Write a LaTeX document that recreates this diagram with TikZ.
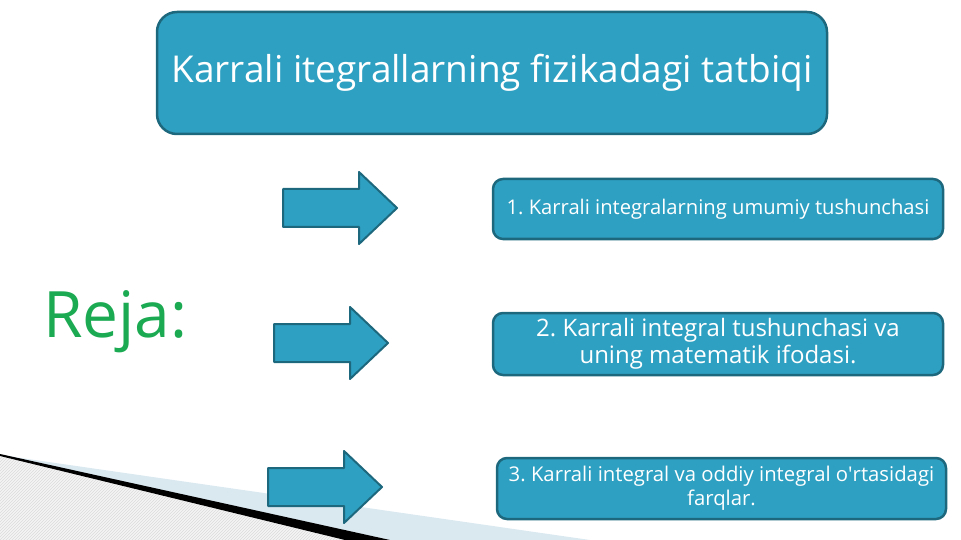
\documentclass[tikz,border=0pt]{standalone}
\usepackage{fontspec}
\setmainfont{Open Sans}
\usetikzlibrary{patterns}
\definecolor{boxfill}{RGB}{46,160,194}
\definecolor{boxline}{RGB}{30,104,126}
\definecolor{rejagreen}{RGB}{27,170,82}
\definecolor{bandblue}{RGB}{218,232,240}
\tikzset{
    planbox/.style={draw=boxline, line width=2.5pt, fill=boxfill, text=white,
        rounded corners=10pt, align=center, inner sep=2pt},
    planarrow/.style={draw=boxline, line width=2pt, fill=boxfill, line join=round}
}
\frenchspacing

\begin{document}
\begin{tikzpicture}[x=1pt, y=-1pt]
    \useasboundingbox (0,0) rectangle (961,540);

    
    \fill[bandblue] (0,455) -- (590,540) -- (390,540) -- cycle;
    \fill[gray!8] (0,456) -- (345,540) -- (0,540) -- cycle;
    \fill[pattern=north east lines, pattern color=gray!28] (0,456) -- (345,540) -- (0,540) -- cycle;
    \fill[black] (0,454) -- (390,540) -- (345,540) -- (0,456) -- cycle;

    
    \node[planbox, rounded corners=20pt, minimum width=670pt, minimum height=122pt,
        font=\fontsize{37}{44}\selectfont] (title) at (492,73)
        {Karrali itegrallarning fizikadagi tatbiqi};

    
    \node[text=rejagreen, anchor=base west, inner sep=0pt,
        font=\fontsize{64}{72}\selectfont] (reja) at (43,337) {Reja:};

    
    \foreach \x/\y in {283/208, 274/343, 268/487}
    {
        \draw[planarrow] (\x,\y-19) -- ++(76,0) -- ++(0,-17) -- ++(38,36)
            -- ++(-38,36) -- ++(0,-17) -- ++(-76,0) -- cycle;
    }

    
    \node[planbox, minimum width=450pt, minimum height=60pt,
        font=\fontsize{20.2}{24}\selectfont] (plan1) at (718,209)
        {1. Karrali integralarning umumiy tushunchasi};
    \node[planbox, minimum width=450pt, minimum height=62pt,
        font=\fontsize{24}{27}\selectfont] (plan2) at (718,344)
        {2. Karrali integral tushunchasi va\\uning matematik ifodasi.};
    \node[planbox, minimum width=449pt, minimum height=61pt,
        font=\fontsize{20.3}{24}\selectfont] (plan3) at (721.5,488.5)
        {3. Karrali integral va oddiy integral o\textquotesingle rtasidagi\\farqlar.};

\end{tikzpicture}
\end{document}
